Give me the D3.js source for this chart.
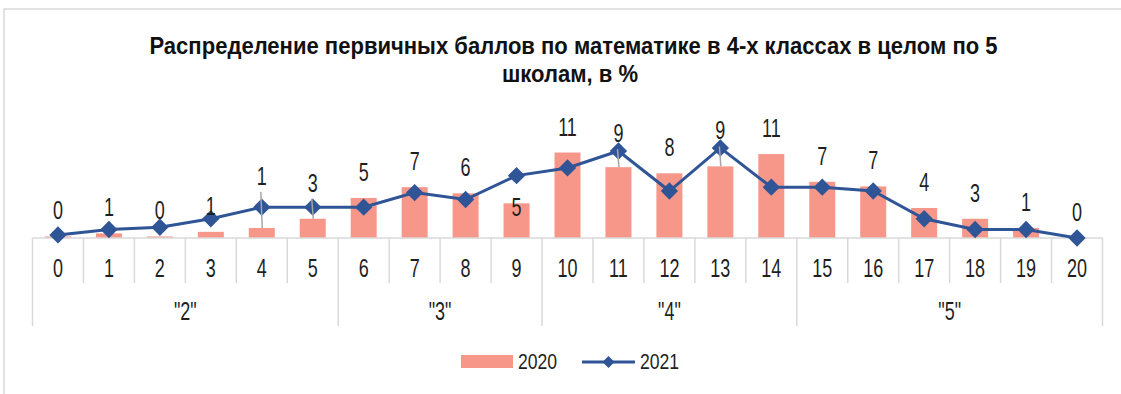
<!DOCTYPE html>
<html lang="ru">
<head>
<meta charset="utf-8">
<script src="https://cdn.jsdelivr.net/npm/d3@7"></script>
<style>
  html, body { margin: 0; padding: 0; background: #fff; }
  svg { display: block; }
  text { font-family: "Liberation Sans", Arial, sans-serif; fill: #1f1f1f; }
</style>
</head>
<body>
<svg id="chart" width="1121" height="394"></svg>
<script>
// Primary scores 0..20 and the grade band each belongs to
const scores = ["0","1","2","3","4","5","6","7","8","9","10","11","12","13","14","15","16","17","18","19","20"];
const gradeGroups = [
  { label: "\"2\"", from: 0, to: 5 },
  { label: "\"3\"", from: 6, to: 9 },
  { label: "\"4\"", from: 10, to: 14 },
  { label: "\"5\"", from: 15, to: 20 }
];
// Share of pupils, %
const values2020 = [0.2, 0.6, 0.2, 0.8, 1.3, 2.5, 5.2, 6.6, 5.8, 4.5, 11.1, 9.2, 8.4, 9.3, 10.9, 7.3, 6.7, 3.9, 2.5, 1.3, 0];
const values2021 = [0.4, 1.1, 1.4, 2.5, 4.0, 4.0, 4.0, 5.9, 5.0, 8.1, 9.1, 11.3, 6.1, 11.7, 6.6, 6.6, 6.1, 2.5, 1.1, 1.1, 0];
const seriesNames = ["2020", "2021"];
const titleLines = ["Распределение первичных баллов по математике в 4-х классах в целом по 5", "школам, в %"];

const barColor = "#f7978a";
const lineColor = "#2f5597";
const gridColor = "#d9d9d9";

const svg = d3.select("#chart");

// Condensed text: scale horizontally, keeping the anchor at (px, py)
function condensed(sel, sx, px, py) {
  return sel
    .attr("transform", `scale(${sx},1)`)
    .attr("x", typeof px === "function" ? (d, i) => px(d, i) / sx : px / sx)
    .attr("y", py);
}

// Outer chart frame (left and top edges)
svg.append("path")
  .attr("d", "M4,394 V9 H1121")
  .attr("fill", "none").attr("stroke", gridColor).attr("stroke-width", 1.5);

// Title
svg.append("g").selectAll("text").data(titleLines).join("text")
  .attr("text-anchor", "middle")
  .attr("font-weight", "bold")
  .attr("font-size", 24.5)
  .style("fill", "#111")
  .call(condensed, 0.9, (d, i) => i === 0 ? 573.5 : 570, (d, i) => 54 + i * 28.5)
  .text(d => d);

const baseY = 238;
const x = d3.scaleBand().domain(scores).range([32.5, 1102.5]).padding(0);
const y = d3.scaleLinear().domain([0, 12]).range([baseY, baseY - 12 * 7.7]);
const barW = x.bandwidth() * 0.51;
const cx = d => x(d) + x.bandwidth() / 2;
const numSize = 25;
const numSx = 0.72;

// Bars (2020)
svg.append("g").selectAll("rect").data(values2020).join("rect")
  .attr("x", (d, i) => cx(scores[i]) - barW / 2)
  .attr("y", d => y(d))
  .attr("width", barW)
  .attr("height", d => baseY - y(d))
  .attr("fill", barColor);

// Category axis: baseline, score separators and grade-band separators
const axis = svg.append("g").attr("stroke", gridColor).attr("stroke-width", 1.5);
axis.append("line").attr("x1", x.range()[0]).attr("x2", x.range()[1]).attr("y1", baseY).attr("y2", baseY);
const bounds = scores.map(s => x(s)).concat([x.range()[1]]);
const groupBounds = new Set(gradeGroups.map(g => g.from).concat([scores.length]));
axis.selectAll("line.sep").data(bounds).join("line")
  .attr("class", "sep")
  .attr("x1", d => d).attr("x2", d => d)
  .attr("y1", baseY)
  .attr("y2", (d, i) => groupBounds.has(i) ? 326 : 283);

svg.append("g").selectAll("text").data(scores).join("text")
  .attr("text-anchor", "middle")
  .attr("font-size", numSize)
  .call(condensed, numSx, d => cx(d), 277)
  .text(d => d);

svg.append("g").selectAll("text").data(gradeGroups).join("text")
  .attr("text-anchor", "middle")
  .attr("font-size", numSize)
  .call(condensed, numSx, g => (x(scores[g.from]) + x(scores[g.to]) + x.bandwidth()) / 2, 320)
  .text(g => g.label);

// Line with diamond markers (2021)
const line = d3.line().x((d, i) => cx(scores[i])).y(d => y(d));
svg.append("path").datum(values2021)
  .attr("d", line)
  .attr("fill", "none").attr("stroke", lineColor).attr("stroke-width", 3);

const diamond = d3.symbol().type(d3.symbolSquare).size(150);
svg.append("g").selectAll("path").data(values2021).join("path")
  .attr("d", diamond)
  .attr("transform", (d, i) => `translate(${cx(scores[i])},${y(d)}) rotate(45)`)
  .attr("fill", lineColor);

// Value labels for 2020: placed above the bar, a few moved off the marks with leader lines
const labelGap = 17;
const labelShift = { 4: -26, 5: -10, 9: 30, 11: -8, 13: -10 };
const leaderIdx = [4, 5, 11, 13];
const fmt = d3.format(".0f");
const labelY = i => y(values2020[i]) - labelGap + (labelShift[i] || 0);

svg.append("g").selectAll("line").data(leaderIdx).join("line")
  .attr("x1", i => cx(scores[i]) - 1).attr("y1", i => labelY(i) + 7)
  .attr("x2", i => cx(scores[i]) + 0.5).attr("y2", i => y(values2020[i]))
  .attr("stroke", "#a6a6a6").attr("stroke-width", 1.5);

svg.append("g").selectAll("text").data(values2020).join("text")
  .attr("text-anchor", "middle")
  .attr("font-size", numSize)
  .call(condensed, numSx, (d, i) => cx(scores[i]), (d, i) => labelY(i))
  .text(d => fmt(d));

// Legend
const legend = svg.append("g");
legend.append("rect").attr("x", 461).attr("y", 355).attr("width", 52).attr("height", 13).attr("fill", barColor);
legend.append("text").attr("font-size", 22).call(condensed, 0.8, 518, 369).text(seriesNames[0]);
legend.append("line").attr("x1", 582).attr("x2", 635).attr("y1", 362).attr("y2", 362)
  .attr("stroke", lineColor).attr("stroke-width", 3);
legend.append("path").attr("d", d3.symbol().type(d3.symbolSquare).size(72))
  .attr("transform", "translate(608.5,362) rotate(45)").attr("fill", lineColor);
legend.append("text").attr("font-size", 22).call(condensed, 0.8, 640, 369).text(seriesNames[1]);
</script>
</body>
</html>
